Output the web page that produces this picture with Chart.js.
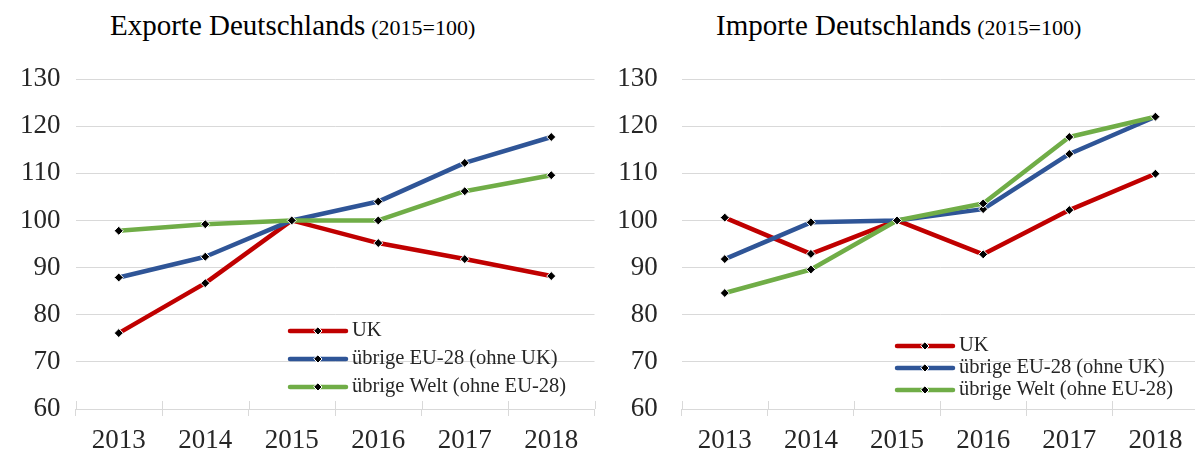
<!DOCTYPE html>
<html>
<head>
<meta charset="utf-8">
<script src="https://cdn.jsdelivr.net/npm/chart.js@4"></script>
<style>
  html, body { margin: 0; padding: 0; background: #fff; overflow: hidden; width: 1195px; height: 452px; }
  .box { position: absolute; top: 0; height: 452px; }
  .title { position: absolute; top: 9px; font-family: 'Liberation Serif', serif; color: #000; white-space: nowrap; }
  .title .main { font-size: 29px; }
  .title .sub { font-size: 22px; margin-left: 2px; }
</style>
</head>
<body>
<div class="title" style="left:110px"><span class="main">Exporte Deutschlands</span> <span class="sub">(2015=100)</span></div>
<div class="title" style="left:716px"><span class="main">Importe Deutschlands</span> <span class="sub">(2015=100)</span></div>
<div class="box" style="left:0; width:600px"><canvas id="exportChart"></canvas></div>
<div class="box" style="left:600px; width:604px"><canvas id="importChart"></canvas></div>
<script>
const years = ['2013', '2014', '2015', '2016', '2017', '2018'];
const seriesNames = ['UK', 'übrige EU-28 (ohne UK)', 'übrige Welt (ohne EU-28)'];

const exportUK = [76.1, 86.7, 100, 95.2, 91.8, 88.2];
const exportEU = [87.9, 92.3, 100, 104.0, 112.2, 117.7];
const exportWelt = [97.8, 99.2, 100, 100.0, 106.2, 109.6];

const importUK = [100.6, 92.9, 100, 92.8, 102.2, 109.9];
const importEU = [91.8, 99.6, 100, 102.4, 114.1, 122.0];
const importWelt = [84.6, 89.6, 100, 103.6, 117.7, 122.0];

const yMin = 60, yMax = 130, yStep = 10;

const colors = ['#C00000', '#2F5597', '#70AD47'];
const FONT = "'Liberation Serif', serif";

// legend drawn inside the plot, line sample with a diamond in the middle
const innerLegend = {
  id: 'innerLegend',
  afterDraw(chart, args, opts) {
    const ctx = chart.ctx;
    ctx.save();
    chart.data.datasets.forEach((ds, i) => {
      const y = opts.y + i * opts.rowH;
      ctx.strokeStyle = ds.borderColor;
      ctx.lineWidth = 4.5;
      ctx.lineCap = 'round';
      ctx.beginPath();
      ctx.moveTo(opts.x + 2, y);
      ctx.lineTo(opts.x + 58, y);
      ctx.stroke();
      const cx = opts.x + 30, r = 4;
      ctx.beginPath();
      ctx.moveTo(cx, y - r); ctx.lineTo(cx + r, y); ctx.lineTo(cx, y + r); ctx.lineTo(cx - r, y);
      ctx.closePath();
      ctx.fillStyle = '#000';
      ctx.strokeStyle = '#fff';
      ctx.lineWidth = 1;
      ctx.fill();
      ctx.stroke();
      ctx.fillStyle = '#262626';
      ctx.font = '20.5px ' + FONT;
      ctx.textBaseline = 'middle';
      ctx.fillText(ds.label, opts.x + 64, y);
    });
    ctx.restore();
  }
};

// the category ticks cross the axis: draw the upper half
const crossTicks = {
  id: 'crossTicks',
  afterDraw(chart) {
    const x = chart.scales.x, ctx = chart.ctx;
    const n = x.ticks.length, w = (x.right - x.left) / n;
    ctx.save();
    ctx.strokeStyle = '#D9D9D9';
    ctx.lineWidth = 1;
    for (let i = 0; i <= n; i++) {
      const px = Math.round(x.left + i * w) + 0.5;
      ctx.beginPath();
      ctx.moveTo(px, x.top - 8);
      ctx.lineTo(px, x.top);
      ctx.stroke();
    }
    ctx.restore();
  }
};

function makeChart(id, values, yWidth, yPad, legendPos) {
  new Chart(document.getElementById(id), {
    type: 'line',
    data: {
      labels: years,
      datasets: values.map((v, i) => ({
        label: seriesNames[i],
        data: v,
        borderColor: colors[i],
        borderWidth: 4.5,
        borderJoinStyle: 'round',
        tension: 0,
        order: 3 - i,
        pointStyle: 'rectRot',
        pointRadius: 4.5,
        pointHoverRadius: 4.5,
        pointBackgroundColor: '#000',
        pointBorderColor: '#fff',
        pointBorderWidth: 1
      }))
    },
    options: {
      responsive: true,
      maintainAspectRatio: false,
      animation: false,
      layout: { padding: { top: 79, bottom: 0, left: 0, right: 2 } },
      plugins: {
        legend: { display: false },
        tooltip: { enabled: false },
        innerLegend: legendPos
      },
      scales: {
        x: {
          offset: true,
          grid: { offset: true, drawOnChartArea: false, color: '#D9D9D9', tickLength: 7 },
          border: { color: '#D9D9D9' },
          ticks: { color: '#262626', font: { family: FONT, size: 27 }, padding: 9 },
          afterFit(s) { s.height = 43; }
        },
        y: {
          min: yMin, max: yMax,
          ticks: { stepSize: yStep, color: '#262626', font: { family: FONT, size: 27 }, padding: yPad },
          grid: { color: '#D9D9D9', drawTicks: false },
          border: { display: false },
          afterFit(s) { s.width = yWidth; }
        }
      }
    },
    plugins: [innerLegend, crossTicks]
  });
}

makeChart('exportChart', [exportUK, exportEU, exportWelt], 75.5, 15, { x: 288, y: 331, rowH: 28 });
makeChart('importChart', [importUK, importEU, importWelt], 81.7, 24, { x: 295, y: 346, rowH: 22 });
</script>
</body>
</html>
